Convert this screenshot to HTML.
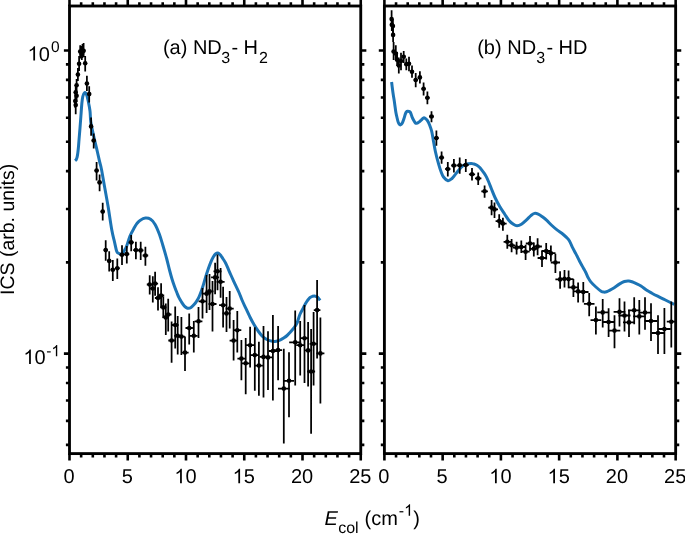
<!DOCTYPE html>
<html><head><meta charset="utf-8"><style>
html,body{margin:0;padding:0;background:#fff;}
svg{display:block;will-change:transform;font-family:"Liberation Sans",sans-serif;fill:#000;text-rendering:geometricPrecision;}
</style></head><body>
<svg width="685" height="534" viewBox="0 0 685 534"><path d="M75.00,160.60 C75.20,160.43 75.85,160.17 76.20,159.60 C76.55,159.03 76.83,158.30 77.10,157.20 C77.37,156.10 77.58,154.62 77.80,153.00 C78.02,151.38 78.20,149.67 78.40,147.50 C78.60,145.33 78.73,143.25 79.00,140.00 C79.27,136.75 79.68,132.00 80.00,128.00 C80.32,124.00 80.60,120.00 80.90,116.00 C81.20,112.00 81.48,107.25 81.80,104.00 C82.12,100.75 82.32,98.42 82.80,96.50 C83.28,94.58 84.08,92.83 84.70,92.50 C85.32,92.17 85.92,93.08 86.50,94.50 C87.08,95.92 87.62,98.25 88.20,101.00 C88.78,103.75 89.57,107.50 90.00,111.00 C90.43,114.50 90.22,117.97 90.80,122.00 C91.38,126.03 92.53,130.80 93.50,135.20 C94.47,139.60 95.58,144.00 96.60,148.40 C97.62,152.80 98.80,158.17 99.60,161.60 C100.40,165.03 100.53,164.60 101.40,169.00 C102.27,173.40 103.68,181.75 104.80,188.00 C105.92,194.25 106.93,199.50 108.10,206.50 C109.27,213.50 110.72,224.03 111.80,230.00 C112.88,235.97 113.80,238.80 114.60,242.30 C115.40,245.80 115.98,249.18 116.60,251.00 C117.22,252.82 117.70,252.70 118.30,253.20 C118.90,253.70 119.60,253.83 120.20,254.00 C120.80,254.17 121.37,254.48 121.90,254.20 C122.43,253.92 122.92,253.07 123.40,252.30 C123.88,251.53 124.27,250.58 124.80,249.60 C125.33,248.62 125.73,248.67 126.60,246.40 C127.47,244.13 128.70,239.13 130.00,236.00 C131.30,232.87 133.23,229.70 134.40,227.60 C135.57,225.50 136.07,224.60 137.00,223.40 C137.93,222.20 138.60,221.28 140.00,220.40 C141.40,219.52 143.63,218.28 145.40,218.10 C147.17,217.92 148.98,218.25 150.60,219.30 C152.22,220.35 153.63,221.90 155.10,224.40 C156.57,226.90 158.10,230.78 159.40,234.30 C160.70,237.82 161.72,241.55 162.90,245.50 C164.08,249.45 165.40,253.92 166.50,258.00 C167.60,262.08 168.58,266.50 169.50,270.00 C170.42,273.50 171.15,276.20 172.00,279.00 C172.85,281.80 173.77,284.47 174.60,286.80 C175.43,289.13 176.27,291.18 177.00,293.00 C177.73,294.82 178.25,296.20 179.00,297.70 C179.75,299.20 180.65,300.65 181.50,302.00 C182.35,303.35 183.30,304.87 184.10,305.80 C184.90,306.73 185.57,307.18 186.30,307.60 C187.03,308.02 187.72,308.32 188.50,308.30 C189.28,308.28 190.15,308.05 191.00,307.50 C191.85,306.95 192.73,305.95 193.60,305.00 C194.47,304.05 195.35,303.02 196.20,301.80 C197.05,300.58 197.90,299.33 198.70,297.70 C199.50,296.07 200.28,293.95 201.00,292.00 C201.72,290.05 202.30,288.27 203.00,286.00 C203.70,283.73 204.40,281.03 205.20,278.40 C206.00,275.77 206.90,272.83 207.80,270.20 C208.70,267.57 209.67,264.83 210.60,262.60 C211.53,260.37 212.58,258.23 213.40,256.80 C214.22,255.37 214.75,254.63 215.50,254.00 C216.25,253.37 217.08,252.83 217.90,253.00 C218.72,253.17 219.58,254.08 220.40,255.00 C221.22,255.92 221.92,257.13 222.80,258.50 C223.68,259.87 224.75,261.35 225.70,263.20 C226.65,265.05 227.60,267.55 228.50,269.60 C229.40,271.65 230.03,273.13 231.10,275.50 C232.17,277.87 233.58,280.97 234.90,283.80 C236.22,286.63 237.82,289.80 239.00,292.50 C240.18,295.20 240.92,297.48 242.00,300.00 C243.08,302.52 244.13,304.68 245.50,307.60 C246.87,310.52 248.73,314.58 250.20,317.50 C251.67,320.42 252.92,322.77 254.30,325.10 C255.68,327.43 257.17,329.65 258.50,331.50 C259.83,333.35 261.05,334.95 262.30,336.20 C263.55,337.45 264.78,338.27 266.00,339.00 C267.22,339.73 268.10,340.20 269.60,340.60 C271.10,341.00 273.18,341.52 275.00,341.40 C276.82,341.28 279.00,340.50 280.50,339.90 C282.00,339.30 282.90,338.53 284.00,337.80 C285.10,337.07 286.10,336.38 287.10,335.50 C288.10,334.62 289.02,333.58 290.00,332.50 C290.98,331.42 292.13,330.08 293.00,329.00 C293.87,327.92 294.48,327.10 295.20,326.00 C295.92,324.90 296.55,324.23 297.30,322.40 C298.05,320.57 298.88,317.07 299.70,315.00 C300.52,312.93 301.35,311.68 302.20,310.00 C303.05,308.32 304.03,306.32 304.80,304.90 C305.57,303.48 306.12,302.53 306.80,301.50 C307.48,300.47 308.28,299.40 308.90,298.70 C309.52,298.00 309.92,297.70 310.50,297.30 C311.08,296.90 311.73,296.53 312.40,296.30 C313.07,296.07 313.73,295.80 314.50,295.90 C315.27,296.00 316.33,296.50 317.00,296.90 C317.67,297.30 317.98,297.72 318.50,298.30 C319.02,298.88 319.83,300.05 320.10,300.40" fill="none" stroke="#1c74b5" stroke-width="3" stroke-linejoin="round" stroke-linecap="butt"/><path d="M391.60,82.00 C391.73,83.08 392.12,86.33 392.40,88.50 C392.68,90.67 393.00,93.00 393.30,95.00 C393.60,97.00 393.90,98.50 394.20,100.50 C394.50,102.50 394.82,105.02 395.10,107.00 C395.38,108.98 395.58,110.65 395.90,112.40 C396.22,114.15 396.63,115.92 397.00,117.50 C397.37,119.08 397.73,120.78 398.10,121.90 C398.47,123.02 398.83,123.70 399.20,124.20 C399.57,124.70 399.93,124.90 400.30,124.90 C400.67,124.90 401.03,124.58 401.40,124.20 C401.77,123.82 402.07,123.55 402.50,122.60 C402.93,121.65 403.52,119.95 404.00,118.50 C404.48,117.05 404.98,115.02 405.40,113.90 C405.82,112.78 406.13,112.25 406.50,111.80 C406.87,111.35 407.05,111.22 407.60,111.20 C408.15,111.18 409.23,111.27 409.80,111.70 C410.37,112.13 410.63,112.95 411.00,113.80 C411.37,114.65 411.53,115.68 412.00,116.80 C412.47,117.92 413.20,119.43 413.80,120.50 C414.40,121.57 414.98,122.78 415.60,123.20 C416.22,123.62 416.88,123.22 417.50,123.00 C418.12,122.78 418.63,122.43 419.30,121.90 C419.97,121.37 420.77,120.47 421.50,119.80 C422.23,119.13 423.03,118.10 423.70,117.90 C424.37,117.70 424.90,118.18 425.50,118.60 C426.10,119.02 426.63,119.37 427.30,120.40 C427.97,121.43 428.77,122.97 429.50,124.80 C430.23,126.63 431.10,129.03 431.70,131.40 C432.30,133.77 432.47,135.57 433.10,139.00 C433.73,142.43 434.57,147.77 435.50,152.00 C436.43,156.23 437.78,161.15 438.70,164.40 C439.62,167.65 440.20,169.40 441.00,171.50 C441.80,173.60 442.33,175.47 443.50,177.00 C444.67,178.53 446.58,180.45 448.00,180.70 C449.42,180.95 450.83,179.47 452.00,178.50 C453.17,177.53 453.92,176.23 455.00,174.90 C456.08,173.57 457.33,171.87 458.50,170.50 C459.67,169.13 460.75,167.75 462.00,166.70 C463.25,165.65 464.48,164.75 466.00,164.20 C467.52,163.65 469.77,163.43 471.10,163.40 C472.43,163.37 473.03,163.70 474.00,164.00 C474.97,164.30 475.98,164.65 476.90,165.20 C477.82,165.75 478.65,166.45 479.50,167.30 C480.35,168.15 481.20,169.28 482.00,170.30 C482.80,171.32 483.57,172.30 484.30,173.40 C485.03,174.50 485.70,175.55 486.40,176.90 C487.10,178.25 487.68,179.57 488.50,181.50 C489.32,183.43 490.22,185.83 491.30,188.50 C492.38,191.17 493.62,194.53 495.00,197.50 C496.38,200.47 498.00,203.55 499.60,206.30 C501.20,209.05 503.03,211.63 504.60,214.00 C506.17,216.37 507.53,218.78 509.00,220.50 C510.47,222.22 512.07,223.42 513.40,224.30 C514.73,225.18 515.67,225.80 517.00,225.80 C518.33,225.80 519.82,225.28 521.40,224.30 C522.98,223.32 524.92,221.35 526.50,219.90 C528.08,218.45 529.57,216.68 530.90,215.60 C532.23,214.52 533.28,213.65 534.50,213.40 C535.72,213.15 536.88,213.53 538.20,214.10 C539.52,214.67 540.97,215.75 542.40,216.80 C543.83,217.85 545.22,218.95 546.80,220.40 C548.38,221.85 550.20,223.92 551.90,225.50 C553.60,227.08 555.30,228.57 557.00,229.90 C558.70,231.23 560.52,232.25 562.10,233.50 C563.68,234.75 565.27,236.15 566.50,237.40 C567.73,238.65 568.53,239.38 569.50,241.00 C570.47,242.62 571.23,244.95 572.30,247.10 C573.37,249.25 574.68,251.55 575.90,253.90 C577.12,256.25 578.38,258.90 579.60,261.20 C580.82,263.50 582.17,265.82 583.20,267.70 C584.23,269.58 585.02,270.92 585.80,272.50 C586.58,274.08 587.07,275.63 587.90,277.20 C588.73,278.77 589.47,280.27 590.80,281.90 C592.13,283.53 594.18,285.45 595.90,287.00 C597.62,288.55 599.75,290.35 601.10,291.20 C602.45,292.05 603.10,292.00 604.00,292.10 C604.90,292.20 605.65,292.05 606.50,291.80 C607.35,291.55 607.82,291.28 609.10,290.60 C610.38,289.92 612.50,288.78 614.20,287.70 C615.90,286.62 617.60,285.13 619.30,284.10 C621.00,283.07 622.82,282.00 624.40,281.50 C625.98,281.00 627.53,281.05 628.80,281.10 C630.07,281.15 630.83,281.42 632.00,281.80 C633.17,282.18 634.30,282.70 635.80,283.40 C637.30,284.10 639.17,284.85 641.00,286.00 C642.83,287.15 644.98,289.10 646.80,290.30 C648.62,291.50 650.08,292.22 651.90,293.20 C653.72,294.18 655.75,295.22 657.70,296.20 C659.65,297.18 661.65,298.13 663.60,299.10 C665.55,300.07 667.63,301.13 669.40,302.00 C671.17,302.87 673.40,303.92 674.20,304.30" fill="none" stroke="#1c74b5" stroke-width="3" stroke-linejoin="round" stroke-linecap="butt"/><path d="M75.7,97.0V114.3M75.3,94.0V108.0M76.6,89.0V102.0M75.7,85.0V99.0M76.6,79.0V92.0M77.9,68.0V81.0M79.1,56.0V71.0M80.2,45.2V58.4M81.8,46.0V60.0M82.5,44.0V58.0M83.6,42.9V57.0M85.2,56.0V71.6M86.9,75.7V91.0M89.2,86.2V102.4M91.1,117.5V135.8M93.7,133.4V148.4M96.6,162.0V180.4M99.6,174.4V191.2M102.7,202.8V220.4M105.7,240.2V260.7M109.2,251.2V271.6M112.8,259.9V281.1M117.3,258.5V278.9M122.0,245.3V265.0M126.8,246.0V263.6M131.2,235.1V251.2M135.9,241.7V259.2M140.7,241.7V259.9M145.4,246.8V265.8M149.7,275.3V294.6M152.8,276.2V302.5M155.1,271.8V295.7M158.0,287.2V310.5M161.1,283.2V306.9M163.3,296.4V318.0M165.8,303.4V335.0M168.2,298.8V331.5M171.6,321.5V362.8M175.2,306.4V348.4M177.7,316.0V354.5M181.4,317.0V355.1M185.0,336.6V370.9M189.2,313.4V344.6M193.8,321.0V352.6M198.5,306.9V337.9M202.5,287.9V318.6M206.6,275.0V313.0M209.5,273.9V310.0M212.5,281.0V331.5M215.1,262.8V294.3M217.5,254.6V290.2M220.6,268.0V297.8M223.1,286.7V327.4M226.5,297.0V332.0M229.7,291.1V328.5M233.6,320.0V360.4M237.3,311.0V352.6M241.4,339.9V380.2M245.7,338.0V394.2M250.1,326.7V367.4M254.8,327.3V390.7M258.9,341.7V395.8M263.5,326.1V397.5M268.0,331.2V389.9M272.9,315.0V400.4M278.1,326.1V380.2M283.8,348.7V443.5M289.0,352.2V417.2M295.2,310.4V385.5M300.2,320.9V375.5M304.5,305.1V383.0M308.1,322.0V386.6M311.1,329.0V433.7M313.6,312.1V385.5M317.1,280.0V358.6M320.4,317.4V403.4" stroke="#000" stroke-width="1.75" fill="none"/><path d="M74.2,105.1H77.2M73.8,101.1H76.8M75.1,95.8H78.1M74.2,92.3H77.2M75.1,85.3H78.1M76.3,74.6H79.5M77.5,63.7H80.7M78.6,51.6H81.8M80.2,54.5H83.4M80.9,52.0H84.1M81.9,50.7H85.3M83.5,63.2H86.9M85.2,83.5H88.6M87.4,94.1H91.0M89.3,126.4H92.9M91.8,140.5H95.6M94.7,170.6H98.5M97.6,182.4H101.6M100.7,211.6H104.7M103.6,250.1H107.8M107.0,260.9H111.4M110.6,269.7H115.0M115.0,268.2H119.6M119.6,254.8H124.4M124.3,254.1H129.3M128.6,242.4H133.8M133.2,250.1H138.6M137.9,250.4H143.5M142.6,255.5H148.2M146.8,284.5H152.6M149.8,288.5H155.8M152.1,283.6H158.1M154.9,298.0H161.1M158.0,295.5H164.2M160.1,307.4H166.5M162.6,317.4H169.0M164.9,314.5H171.5M168.3,340.5H174.9M171.8,325.0H178.6M174.2,335.8H181.2M177.9,336.6H184.9M181.4,352.6H188.6M185.5,328.0H192.9M190.0,335.8H197.6M194.6,321.3H202.4M198.6,301.3H206.4M202.6,293.7H210.6M205.5,291.4H213.5M208.5,304.0H216.5M211.1,277.4H219.1M213.5,271.3H221.5M216.6,281.8H224.6M219.1,305.2H227.1M222.5,313.4H230.5M225.7,308.6H233.7M229.6,340.6H237.6M233.3,330.2H241.3M237.4,358.6H245.4M241.7,363.3H249.7M246.1,345.2H254.1M250.8,355.1H258.8M254.9,365.6H262.9M259.5,356.9H267.5M264.0,357.4H272.0M268.9,351.0H276.9M274.1,350.1H282.1M278.0,388.6H289.6M284.0,380.8H294.0M289.2,342.3H301.2M296.2,345.2H304.2M300.5,338.2H308.5M304.1,350.4H312.1M307.1,371.5H315.1M309.6,343.8H317.6M313.8,310.1H320.4M316.4,353.4H324.4" stroke="#000" stroke-width="1.8" fill="none"/><g fill="#000"><circle cx="75.7" cy="105.1" r="2.3"/><circle cx="75.3" cy="101.1" r="2.3"/><circle cx="76.6" cy="95.8" r="2.3"/><circle cx="75.7" cy="92.3" r="2.3"/><circle cx="76.6" cy="85.3" r="2.3"/><circle cx="77.9" cy="74.6" r="2.3"/><circle cx="79.1" cy="63.7" r="2.3"/><circle cx="80.2" cy="51.6" r="2.3"/><circle cx="81.8" cy="54.5" r="2.3"/><circle cx="82.5" cy="52.0" r="2.3"/><circle cx="83.6" cy="50.7" r="2.3"/><circle cx="85.2" cy="63.2" r="2.3"/><circle cx="86.9" cy="83.5" r="2.3"/><circle cx="89.2" cy="94.1" r="2.3"/><circle cx="91.1" cy="126.4" r="2.3"/><circle cx="93.7" cy="140.5" r="2.3"/><circle cx="96.6" cy="170.6" r="2.3"/><circle cx="99.6" cy="182.4" r="2.3"/><circle cx="102.7" cy="211.6" r="2.3"/><circle cx="105.7" cy="250.1" r="2.3"/><circle cx="109.2" cy="260.9" r="2.3"/><circle cx="112.8" cy="269.7" r="2.3"/><circle cx="117.3" cy="268.2" r="2.3"/><circle cx="122.0" cy="254.8" r="2.3"/><circle cx="126.8" cy="254.1" r="2.3"/><circle cx="131.2" cy="242.4" r="2.3"/><circle cx="135.9" cy="250.1" r="2.3"/><circle cx="140.7" cy="250.4" r="2.3"/><circle cx="145.4" cy="255.5" r="2.3"/><circle cx="149.7" cy="284.5" r="2.3"/><circle cx="152.8" cy="288.5" r="2.3"/><circle cx="155.1" cy="283.6" r="2.3"/><circle cx="158.0" cy="298.0" r="2.3"/><circle cx="161.1" cy="295.5" r="2.3"/><circle cx="163.3" cy="307.4" r="2.3"/><circle cx="165.8" cy="317.4" r="2.3"/><circle cx="168.2" cy="314.5" r="2.3"/><circle cx="171.6" cy="340.5" r="2.3"/><circle cx="175.2" cy="325.0" r="2.3"/><circle cx="177.7" cy="335.8" r="2.3"/><circle cx="181.4" cy="336.6" r="2.3"/><circle cx="185.0" cy="352.6" r="2.3"/><circle cx="189.2" cy="328.0" r="2.3"/><circle cx="193.8" cy="335.8" r="2.3"/><circle cx="198.5" cy="321.3" r="2.3"/><circle cx="202.5" cy="301.3" r="2.3"/><circle cx="206.6" cy="293.7" r="2.3"/><circle cx="209.5" cy="291.4" r="2.3"/><circle cx="212.5" cy="304.0" r="2.3"/><circle cx="215.1" cy="277.4" r="2.3"/><circle cx="217.5" cy="271.3" r="2.3"/><circle cx="220.6" cy="281.8" r="2.3"/><circle cx="223.1" cy="305.2" r="2.3"/><circle cx="226.5" cy="313.4" r="2.3"/><circle cx="229.7" cy="308.6" r="2.3"/><circle cx="233.6" cy="340.6" r="2.3"/><circle cx="237.3" cy="330.2" r="2.3"/><circle cx="241.4" cy="358.6" r="2.3"/><circle cx="245.7" cy="363.3" r="2.3"/><circle cx="250.1" cy="345.2" r="2.3"/><circle cx="254.8" cy="355.1" r="2.3"/><circle cx="258.9" cy="365.6" r="2.3"/><circle cx="263.5" cy="356.9" r="2.3"/><circle cx="268.0" cy="357.4" r="2.3"/><circle cx="272.9" cy="351.0" r="2.3"/><circle cx="278.1" cy="350.1" r="2.3"/><circle cx="283.8" cy="388.6" r="2.3"/><circle cx="289.0" cy="380.8" r="2.3"/><circle cx="295.2" cy="342.3" r="2.3"/><circle cx="300.2" cy="345.2" r="2.3"/><circle cx="304.5" cy="338.2" r="2.3"/><circle cx="308.1" cy="350.4" r="2.3"/><circle cx="311.1" cy="371.5" r="2.3"/><circle cx="313.6" cy="343.8" r="2.3"/><circle cx="317.1" cy="310.1" r="2.3"/><circle cx="320.4" cy="353.4" r="2.3"/></g><path d="M391.6,10.3V26.0M391.8,18.0V31.0M392.9,19.0V33.0M393.1,27.0V42.0M393.6,42.0V60.0M395.8,45.3V61.1M397.1,52.0V66.0M398.8,57.6V73.4M401.0,52.8V70.3M403.7,51.0V62.9M406.3,58.5V70.3M409.0,56.7V71.2M412.0,65.5V77.8M415.7,73.0V87.3M419.9,71.2V83.5M423.6,82.6V95.4M427.4,91.4V104.2M431.5,111.2V122.3M436.4,130.5V145.7M441.6,151.5V163.8M447.8,162.0V176.6M453.9,159.1V172.6M459.7,157.4V173.7M465.8,159.1V172.0M472.0,168.0V180.5M478.2,172.6V184.9M484.6,185.4V197.7M491.6,200.0V215.2M494.5,202.4V218.1M499.2,214.3V227.8M502.9,217.8V230.7M507.3,234.8V248.8M511.6,238.9V252.3M516.6,241.8V254.6M521.3,240.6V252.9M525.6,244.7V259.9M530.0,236.0V251.1M533.8,242.4V256.4M537.6,238.3V255.2M542.0,250.5V267.0M546.2,243.1V259.5M550.9,245.4V261.5M555.4,253.7V273.0M560.1,271.2V288.7M564.5,270.0V287.6M568.6,270.6V288.2M573.4,279.0V297.1M578.1,282.5V302.4M583.3,281.9V302.4M589.2,293.0V316.3M595.9,306.4V334.6M602.7,298.9V327.4M608.6,308.2V337.0M614.5,315.3V348.3M619.5,298.3V326.6M624.5,301.6V331.4M629.0,309.7V337.0M634.2,297.3V324.2M639.3,300.0V334.6M645.0,297.3V329.8M651.0,303.2V341.1M658.0,315.3V354.0M664.4,308.0V354.0M671.3,301.6V347.5" stroke="#000" stroke-width="1.75" fill="none"/><path d="M390.1,19.1H393.1M390.3,24.8H393.3M391.3,26.1H394.5M391.5,34.9H394.7M392.0,51.5H395.2M394.2,53.6H397.4M395.5,59.8H398.7M397.1,65.5H400.5M399.3,61.1H402.7M401.9,56.7H405.5M404.5,64.2H408.1M407.1,63.7H410.9M410.1,71.7H413.9M413.7,80.0H417.7M417.8,77.4H422.0M421.5,88.8H425.7M425.2,97.8H429.6M429.2,116.5H433.8M434.0,138.1H438.8M439.1,157.6H444.1M445.2,169.0H450.4M451.2,165.5H456.6M456.9,165.3H462.5M462.9,165.0H468.7M468.9,174.3H475.1M475.0,178.4H481.4M481.3,191.3H487.9M488.2,207.6H495.0M491.0,209.4H498.0M495.6,221.1H502.8M499.2,223.6H506.6M503.6,241.8H511.0M507.8,245.3H515.4M512.7,247.6H520.5M517.3,247.0H525.3M521.5,251.7H529.7M525.8,243.5H534.2M529.6,248.8H538.0M533.3,246.5H541.9M537.6,258.0H546.4M541.7,251.0H550.7M546.3,253.2H555.5M550.8,262.5H560.0M555.4,279.4H564.8M559.7,278.8H569.3M563.7,279.1H573.5M568.4,287.4H578.4M573.0,291.4H583.2M578.1,292.0H588.5M583.9,303.8H594.5M590.5,320.1H601.3M597.2,312.4H608.2M602.9,322.0H614.3M608.7,330.6H620.3M613.6,311.9H625.4M618.5,315.5H630.5M623.0,322.4H635.0M628.1,310.3H640.3M633.1,316.4H645.5M638.7,312.6H651.3M644.7,321.0H657.3M651.7,333.0H664.3M658.1,329.0H670.7M666.8,321.7H675.8" stroke="#000" stroke-width="1.8" fill="none"/><g fill="#000"><circle cx="391.6" cy="19.1" r="2.3"/><circle cx="391.8" cy="24.8" r="2.3"/><circle cx="392.9" cy="26.1" r="2.3"/><circle cx="393.1" cy="34.9" r="2.3"/><circle cx="393.6" cy="51.5" r="2.3"/><circle cx="395.8" cy="53.6" r="2.3"/><circle cx="397.1" cy="59.8" r="2.3"/><circle cx="398.8" cy="65.5" r="2.3"/><circle cx="401.0" cy="61.1" r="2.3"/><circle cx="403.7" cy="56.7" r="2.3"/><circle cx="406.3" cy="64.2" r="2.3"/><circle cx="409.0" cy="63.7" r="2.3"/><circle cx="412.0" cy="71.7" r="2.3"/><circle cx="415.7" cy="80.0" r="2.3"/><circle cx="419.9" cy="77.4" r="2.3"/><circle cx="423.6" cy="88.8" r="2.3"/><circle cx="427.4" cy="97.8" r="2.3"/><circle cx="431.5" cy="116.5" r="2.3"/><circle cx="436.4" cy="138.1" r="2.3"/><circle cx="441.6" cy="157.6" r="2.3"/><circle cx="447.8" cy="169.0" r="2.3"/><circle cx="453.9" cy="165.5" r="2.3"/><circle cx="459.7" cy="165.3" r="2.3"/><circle cx="465.8" cy="165.0" r="2.3"/><circle cx="472.0" cy="174.3" r="2.3"/><circle cx="478.2" cy="178.4" r="2.3"/><circle cx="484.6" cy="191.3" r="2.3"/><circle cx="491.6" cy="207.6" r="2.3"/><circle cx="494.5" cy="209.4" r="2.3"/><circle cx="499.2" cy="221.1" r="2.3"/><circle cx="502.9" cy="223.6" r="2.3"/><circle cx="507.3" cy="241.8" r="2.3"/><circle cx="511.6" cy="245.3" r="2.3"/><circle cx="516.6" cy="247.6" r="2.3"/><circle cx="521.3" cy="247.0" r="2.3"/><circle cx="525.6" cy="251.7" r="2.3"/><circle cx="530.0" cy="243.5" r="2.3"/><circle cx="533.8" cy="248.8" r="2.3"/><circle cx="537.6" cy="246.5" r="2.3"/><circle cx="542.0" cy="258.0" r="2.3"/><circle cx="546.2" cy="251.0" r="2.3"/><circle cx="550.9" cy="253.2" r="2.3"/><circle cx="555.4" cy="262.5" r="2.3"/><circle cx="560.1" cy="279.4" r="2.3"/><circle cx="564.5" cy="278.8" r="2.3"/><circle cx="568.6" cy="279.1" r="2.3"/><circle cx="573.4" cy="287.4" r="2.3"/><circle cx="578.1" cy="291.4" r="2.3"/><circle cx="583.3" cy="292.0" r="2.3"/><circle cx="589.2" cy="303.8" r="2.3"/><circle cx="595.9" cy="320.1" r="2.3"/><circle cx="602.7" cy="312.4" r="2.3"/><circle cx="608.6" cy="322.0" r="2.3"/><circle cx="614.5" cy="330.6" r="2.3"/><circle cx="619.5" cy="311.9" r="2.3"/><circle cx="624.5" cy="315.5" r="2.3"/><circle cx="629.0" cy="322.4" r="2.3"/><circle cx="634.2" cy="310.3" r="2.3"/><circle cx="639.3" cy="316.4" r="2.3"/><circle cx="645.0" cy="312.6" r="2.3"/><circle cx="651.0" cy="321.0" r="2.3"/><circle cx="658.0" cy="333.0" r="2.3"/><circle cx="664.4" cy="329.0" r="2.3"/><circle cx="671.3" cy="321.7" r="2.3"/></g><rect x="69.5" y="6.0" width="291.25" height="447.6" fill="none" stroke="#000" stroke-width="2.85"/><path d="M69.50,453.6V460.4M69.50,6.0V0.0M81.15,453.6V457.6M81.15,6.0V2.3M92.80,453.6V457.6M92.80,6.0V2.3M104.45,453.6V457.6M104.45,6.0V2.3M116.10,453.6V457.6M116.10,6.0V2.3M127.75,453.6V460.4M127.75,6.0V0.0M139.40,453.6V457.6M139.40,6.0V2.3M151.05,453.6V457.6M151.05,6.0V2.3M162.70,453.6V457.6M162.70,6.0V2.3M174.35,453.6V457.6M174.35,6.0V2.3M186.00,453.6V460.4M186.00,6.0V0.0M197.65,453.6V457.6M197.65,6.0V2.3M209.30,453.6V457.6M209.30,6.0V2.3M220.95,453.6V457.6M220.95,6.0V2.3M232.60,453.6V457.6M232.60,6.0V2.3M244.25,453.6V460.4M244.25,6.0V0.0M255.90,453.6V457.6M255.90,6.0V2.3M267.55,453.6V457.6M267.55,6.0V2.3M279.20,453.6V457.6M279.20,6.0V2.3M290.85,453.6V457.6M290.85,6.0V2.3M302.50,453.6V460.4M302.50,6.0V0.0M314.15,453.6V457.6M314.15,6.0V2.3M325.80,453.6V457.6M325.80,6.0V2.3M337.45,453.6V457.6M337.45,6.0V2.3M349.10,453.6V457.6M349.10,6.0V2.3M360.75,453.6V460.4M360.75,6.0V0.0M69.5,50.50H63.90M360.75,50.50H366.35M69.5,64.37H65.90M360.75,64.37H364.35M69.5,79.87H65.90M360.75,79.87H364.35M69.5,97.45H65.90M360.75,97.45H364.35M69.5,117.74H65.90M360.75,117.74H364.35M69.5,141.74H65.90M360.75,141.74H364.35M69.5,171.12H65.90M360.75,171.12H364.35M69.5,208.98H65.90M360.75,208.98H364.35M69.5,262.36H65.90M360.75,262.36H364.35M69.5,353.60H63.90M360.75,353.60H366.35M69.5,367.47H65.90M360.75,367.47H364.35M69.5,382.97H65.90M360.75,382.97H364.35M69.5,400.55H65.90M360.75,400.55H364.35M69.5,420.84H65.90M360.75,420.84H364.35M69.5,444.84H65.90M360.75,444.84H364.35" stroke="#000" stroke-width="2.6" fill="none"/><rect x="384.4" y="6.0" width="291.25" height="447.6" fill="none" stroke="#000" stroke-width="2.85"/><path d="M384.40,453.6V460.4M384.40,6.0V0.0M396.05,453.6V457.6M396.05,6.0V2.3M407.70,453.6V457.6M407.70,6.0V2.3M419.35,453.6V457.6M419.35,6.0V2.3M431.00,453.6V457.6M431.00,6.0V2.3M442.65,453.6V460.4M442.65,6.0V0.0M454.30,453.6V457.6M454.30,6.0V2.3M465.95,453.6V457.6M465.95,6.0V2.3M477.60,453.6V457.6M477.60,6.0V2.3M489.25,453.6V457.6M489.25,6.0V2.3M500.90,453.6V460.4M500.90,6.0V0.0M512.55,453.6V457.6M512.55,6.0V2.3M524.20,453.6V457.6M524.20,6.0V2.3M535.85,453.6V457.6M535.85,6.0V2.3M547.50,453.6V457.6M547.50,6.0V2.3M559.15,453.6V460.4M559.15,6.0V0.0M570.80,453.6V457.6M570.80,6.0V2.3M582.45,453.6V457.6M582.45,6.0V2.3M594.10,453.6V457.6M594.10,6.0V2.3M605.75,453.6V457.6M605.75,6.0V2.3M617.40,453.6V460.4M617.40,6.0V0.0M629.05,453.6V457.6M629.05,6.0V2.3M640.70,453.6V457.6M640.70,6.0V2.3M652.35,453.6V457.6M652.35,6.0V2.3M664.00,453.6V457.6M664.00,6.0V2.3M675.65,453.6V460.4M675.65,6.0V0.0M384.4,50.50H378.80M675.65,50.50H681.25M384.4,64.37H380.80M675.65,64.37H679.25M384.4,79.87H380.80M675.65,79.87H679.25M384.4,97.45H380.80M675.65,97.45H679.25M384.4,117.74H380.80M675.65,117.74H679.25M384.4,141.74H380.80M675.65,141.74H679.25M384.4,171.12H380.80M675.65,171.12H679.25M384.4,208.98H380.80M675.65,208.98H679.25M384.4,262.36H380.80M675.65,262.36H679.25M384.4,353.60H378.80M675.65,353.60H681.25M384.4,367.47H380.80M675.65,367.47H679.25M384.4,382.97H380.80M675.65,382.97H679.25M384.4,400.55H380.80M675.65,400.55H679.25M384.4,420.84H380.80M675.65,420.84H679.25M384.4,444.84H380.80M675.65,444.84H679.25" stroke="#000" stroke-width="2.6" fill="none"/><text x="63.44" y="483.2" font-size="20">0</text><text x="121.69" y="483.2" font-size="20">5</text><path d="M763 0H583V1147Q518 1085 412.5 1023T222 930V1104Q373 1175 486 1276T646 1472H763V0Z" transform="translate(174.38,483.2) scale(0.00977,-0.00977)"/><text x="185.50" y="483.2" font-size="20">0</text><path d="M763 0H583V1147Q518 1085 412.5 1023T222 930V1104Q373 1175 486 1276T646 1472H763V0Z" transform="translate(232.63,483.2) scale(0.00977,-0.00977)"/><text x="243.75" y="483.2" font-size="20">5</text><text x="290.88" y="483.2" font-size="20">2</text><text x="302.00" y="483.2" font-size="20">0</text><text x="349.13" y="483.2" font-size="20">2</text><text x="360.25" y="483.2" font-size="20">5</text><text x="378.34" y="483.2" font-size="20">0</text><text x="436.59" y="483.2" font-size="20">5</text><path d="M763 0H583V1147Q518 1085 412.5 1023T222 930V1104Q373 1175 486 1276T646 1472H763V0Z" transform="translate(489.28,483.2) scale(0.00977,-0.00977)"/><text x="500.40" y="483.2" font-size="20">0</text><path d="M763 0H583V1147Q518 1085 412.5 1023T222 930V1104Q373 1175 486 1276T646 1472H763V0Z" transform="translate(547.53,483.2) scale(0.00977,-0.00977)"/><text x="558.65" y="483.2" font-size="20">5</text><text x="605.78" y="483.2" font-size="20">2</text><text x="616.90" y="483.2" font-size="20">0</text><text x="664.03" y="483.2" font-size="20">2</text><text x="675.15" y="483.2" font-size="20">5</text><path d="M763 0H583V1147Q518 1085 412.5 1023T222 930V1104Q373 1175 486 1276T646 1472H763V0Z" transform="translate(27.60,60.6) scale(0.00977,-0.00977)"/><text x="38.72" y="60.6" font-size="20">0</text><text x="50.90" y="52.0" font-size="15.5">0</text><path d="M763 0H583V1147Q518 1085 412.5 1023T222 930V1104Q373 1175 486 1276T646 1472H763V0Z" transform="translate(23.40,363.9) scale(0.00977,-0.00977)"/><text x="34.52" y="363.9" font-size="20">0</text><text x="46.30" y="356.2" font-size="15.5">-</text><path d="M763 0H583V1147Q518 1085 412.5 1023T222 930V1104Q373 1175 486 1276T646 1472H763V0Z" transform="translate(51.46,356.2) scale(0.00757,-0.00757)"/><text x="162.9" y="54" font-size="20">(a) ND</text><text x="221.2" y="62.7" font-size="16">3</text><text x="231.4" y="54" font-size="20">- H</text><text x="258.9" y="62.7" font-size="16">2</text><text x="477.2" y="54" font-size="20">(b) ND</text><text x="536.2" y="62.7" font-size="16">3</text><text x="546.4" y="54" font-size="20">- HD</text><text x="324.5" y="524.7" font-size="20" font-style="italic">E</text><text x="338.2" y="532.7" font-size="16">col</text><text x="364.5" y="524.7" font-size="20">(cm</text><text x="398.80" y="515.8" font-size="16">-</text><path d="M763 0H583V1147Q518 1085 412.5 1023T222 930V1104Q373 1175 486 1276T646 1472H763V0Z" transform="translate(404.13,515.8) scale(0.00781,-0.00781)"/><text x="413.3" y="524.7" font-size="20">)</text><text transform="translate(14.2,295.0) rotate(-90)" font-size="19.5">ICS (arb. units)</text></svg>
</body></html>
